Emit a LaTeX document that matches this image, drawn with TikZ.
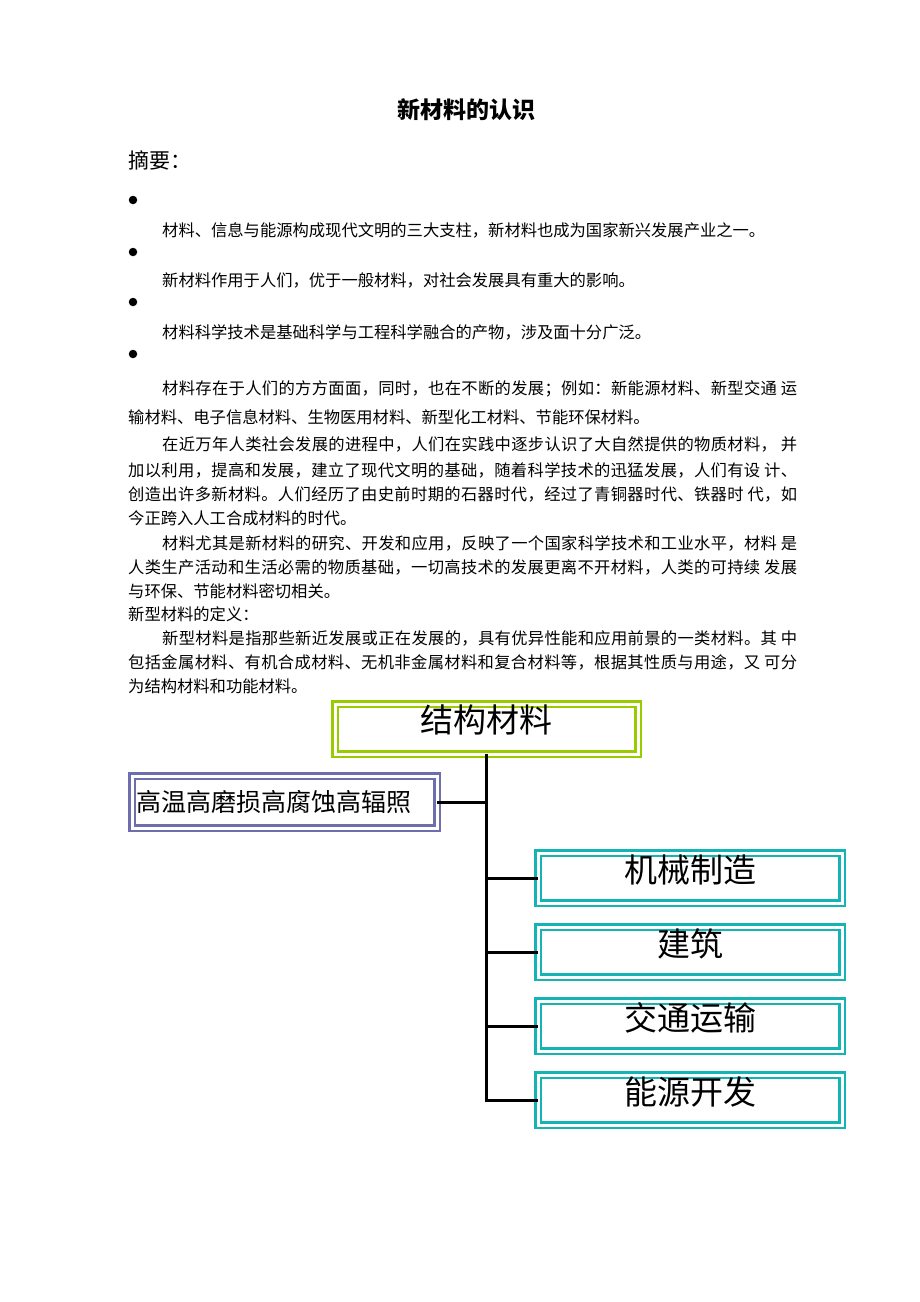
\documentclass[tikz,border=0pt]{standalone}
\usepackage{fontspec}
\setmainfont{Noto Sans CJK SC}
\usetikzlibrary{positioning}

% stretchable glue between CJK characters, so a line can be justified
\newcount\cjkchar
\cjkchar="4E00
\loop
  \XeTeXcharclass\cjkchar=1
  \advance\cjkchar by 1
\ifnum\cjkchar<"A000 \repeat
\XeTeXcharclass"3001=3 \XeTeXcharclass"3002=3
\XeTeXcharclass"FF0C=3 \XeTeXcharclass"FF1A=3 \XeTeXcharclass"FF1B=3
\XeTeXinterchartokenstate=1
\XeTeXinterchartoks 1 1 = {\hskip 0pt plus 2pt\relax}
\XeTeXinterchartoks 1 3 = {\hskip 0pt plus 2pt\relax}
\XeTeXinterchartoks 3 1 = {\hskip 0pt plus 2pt\relax}
\XeTeXinterchartoks 3 3 = {\hskip 0pt plus 2pt\relax}

\definecolor{boxgreen}{HTML}{99CC00}
\definecolor{boxpurple}{HTML}{6E6EAE}
\definecolor{boxcyan}{HTML}{14B4B4}

% stretch one line of text to a given width
\newcommand{\fullline}[2]{\makebox[#1][s]{#2}}

\tikzset{
  body/.style={anchor=west, inner sep=0pt, font=\fontsize{16.3}{18}\selectfont},
  dot/.style={circle, fill=black, inner sep=0pt, minimum size=8.5pt},
  dblbox/.style={draw=#1, line width=2.5pt, double=white, double distance=3pt,
                 inner sep=0pt, outer sep=0pt, minimum height=50pt},
  boxtext/.style={inner sep=0pt, font=\fontsize{33}{35}\selectfont},
  trunk/.style={line width=3pt}
}

\begin{document}
\begin{tikzpicture}[x=1pt, y=-1pt, node distance=24pt]
    \useasboundingbox (0,0) rectangle (920,1302);

    % heading
    \node[inner sep=0pt, font=\fontsize{23}{25}\selectfont\bfseries] (title) at (466,110) {新材料的认识};
    \node[anchor=west, inner sep=0pt, font=\fontsize{21}{23}\selectfont] (abstract) at (128,160) {摘要：};

    % bullets
    \node[dot] (b1) at (133,200) {};
    \node[dot] (b2) at (133,252) {};
    \node[dot] (b3) at (133,302) {};
    \node[dot] (b4) at (133,354) {};
    \node[body] (t1) at (162,230) {材料、信息与能源构成现代文明的三大支柱，新材料也成为国家新兴发展产业之一。};
    \node[body] (t2) at (162,280) {新材料作用于人们，优于一般材料，对社会发展具有重大的影响。};
    \node[body] (t3) at (162,332) {材料科学技术是基础科学与工程科学融合的产物，涉及面十分广泛。};

    % paragraphs
    \node[body] (p1a) at (162,389) {\fullline{635pt}{材料存在于人们的方方面面，同时，也在不断的发展；例如：新能源材料、新型交通 运}};
    \node[body] (p1b) at (128,417) {输材料、电子信息材料、生物医用材料、新型化工材料、节能环保材料。};
    \node[body] (p2a) at (162,444) {\fullline{635pt}{在近万年人类社会发展的进程中，人们在实践中逐步认识了大自然提供的物质材料， 并}};
    \node[body] (p2b) at (128,470) {\fullline{669pt}{加以利用，提高和发展，建立了现代文明的基础，随着科学技术的迅猛发展，人们有设 计、}};
    \node[body] (p2c) at (128,494) {\fullline{669pt}{创造出许多新材料。人们经历了由史前时期的石器时代，经过了青铜器时代、铁器时 代，如}};
    \node[body] (p2d) at (128,518) {今正跨入人工合成材料的时代。};
    \node[body] (p3a) at (162,543) {\fullline{635pt}{材料尤其是新材料的研究、开发和应用，反映了一个国家科学技术和工业水平，材料 是}};
    \node[body] (p3b) at (128,567) {\fullline{669pt}{人类生产活动和生活必需的物质基础，一切高技术的发展更离不开材料，人类的可持续 发展}};
    \node[body] (p3c) at (128,591) {与环保、节能材料密切相关。};
    \node[body] (def) at (128,614) {新型材料的定义：};
    \node[body] (p4a) at (162,638) {\fullline{635pt}{新型材料是指那些新近发展或正在发展的，具有优异性能和应用前景的一类材料。其 中}};
    \node[body] (p4b) at (128,662) {\fullline{669pt}{包括金属材料、有机合成材料、无机非金属材料和复合材料等，根据其性质与用途，又 可分}};
    \node[body] (p4c) at (128,686) {为结构材料和功能材料。};

    % boxes
    \node[dblbox=boxgreen, minimum width=303pt] (jiegou) at (486.5,729) {};
    \node[dblbox=boxpurple, minimum width=305pt, minimum height=52pt] (gaowen) at (284.5,802) {};
    \node[dblbox=boxcyan, minimum width=304pt] (jixie) at (690,878) {};
    \node[dblbox=boxcyan, minimum width=304pt, below=of jixie] (jianzhu) {};
    \node[dblbox=boxcyan, minimum width=304pt, below=of jianzhu] (jiaotong) {};
    \node[dblbox=boxcyan, minimum width=304pt, below=of jiaotong] (nengyuan) {};

    % box texts
    \node[boxtext] (jiegout) at ([yshift=9pt]jiegou.center) {结构材料};
    \node[boxtext, anchor=west, font=\fontsize{25}{27}\selectfont] (gaowent) at (136,802) {高温高磨损高腐蚀高辐照};
    \node[boxtext] (jixiet) at ([yshift=8pt]jixie.center) {机械制造};
    \node[boxtext] (jianzhut) at ([yshift=8pt]jianzhu.center) {建筑};
    \node[boxtext] (jiaotongt) at ([yshift=8pt]jiaotong.center) {交通运输};
    \node[boxtext] (nengyuant) at ([yshift=8pt]nengyuan.center) {能源开发};

    % edges
    \draw[trunk] (jiegou.south) |- (nengyuan.west);
    \draw[trunk] (gaowen.east) -- (gaowen.east -| jiegou.south);
    \draw[trunk] (jixie.west) -- (jixie.west -| jiegou.south);
    \draw[trunk] (jianzhu.west) -- (jianzhu.west -| jiegou.south);
    \draw[trunk] (jiaotong.west) -- (jiaotong.west -| jiegou.south);
\end{tikzpicture}
\end{document}
